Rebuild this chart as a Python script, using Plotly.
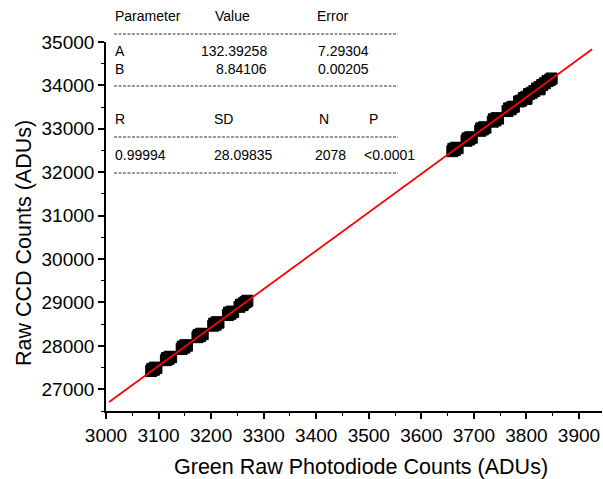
import plotly.graph_objects as go

# Photodiode vs CCD measurements (ADUs)
pd_counts = [
    3086, 3088, 3091, 3093, 3096,
    3114, 3116, 3119, 3121, 3124,
    3144, 3146, 3149, 3151, 3154,
    3174, 3176, 3179, 3181, 3184,
    3204, 3206, 3209, 3211, 3214,
    3232, 3234, 3237, 3239, 3242,
    3254, 3257, 3260, 3263, 3266, 3269,
    3659, 3661, 3664, 3666, 3669,
    3686, 3688, 3691, 3693, 3696,
    3712, 3714, 3717, 3719, 3722,
    3736, 3738, 3741, 3743, 3746,
    3764, 3767, 3770, 3773, 3776,
    3786, 3790, 3795, 3800, 3805, 3810, 3815, 3820, 3825, 3830, 3835, 3840, 3845, 3848,
    3800, 3825,
]
ccd_counts = [
    27420, 27470, 27450, 27500, 27490,
    27670, 27720, 27700, 27750, 27740,
    27930, 27985, 27960, 28015, 28005,
    28200, 28250, 28225, 28280, 28270,
    28465, 28515, 28490, 28545, 28535,
    28710, 28765, 28740, 28790, 28780,
    28900, 28950, 28940, 28990, 29010, 29040,
    32485, 32540, 32515, 32565, 32555,
    32725, 32780, 32755, 32805, 32795,
    32955, 33010, 32985, 33035, 33025,
    33165, 33220, 33195, 33245, 33235,
    33410, 33470, 33450, 33500, 33510,
    33630, 33650, 33710, 33740, 33800, 33830, 33870, 33930, 33960, 34010, 34050, 34100, 34130, 34160,
    33690, 33910,
]

# Linear fit results
fit_A = 132.39258
fit_A_err = 7.29304
fit_B = 8.84106
fit_B_err = 0.00205
fit_R = 0.99994
fit_SD = 28.09835
fit_N = 2078
fit_P = "<0.0001"
fit_x = [3006, 3925]
fit_y = [fit_A + fit_B * v for v in fit_x]

x_ticks = list(range(3000, 4000, 100))
y_ticks = list(range(27000, 36000, 1000))

FONT = "Liberation Sans, Arial, sans-serif"
W, H = 603, 479
L, R, T, B = 106, 1, 42, 68
PW, PH = W - L - R, H - T - B


def px(x):
    return (x - L) / PW


def py(y):
    return (H - B - y) / PH


fig = go.Figure()
fig.add_trace(go.Scatter(
    x=pd_counts, y=ccd_counts, mode="markers",
    marker=dict(symbol="square", size=11, color="black",
                line=dict(color="black", width=1)),
    showlegend=False,
))
fig.add_trace(go.Scatter(
    x=fit_x, y=fit_y, mode="lines",
    line=dict(color="#ff0000", width=1.8),
    showlegend=False,
))

axis_common = dict(
    showline=True, linecolor="black", linewidth=1.6,
    showgrid=False, zeroline=False,
    ticks="outside", ticklen=6, tickwidth=1.6, tickcolor="black",
    tickformat="d",
    tickfont=dict(family=FONT, size=19, color="black"),
)
fig.update_xaxes(
    range=[3000, 3000 + PW / (473 / 900)], tickvals=x_ticks,
    minor=dict(dtick=50, ticks="outside", ticklen=3.5, tickwidth=1.4, tickcolor="black"),
    **axis_common,
)
fig.update_yaxes(
    range=[26500, 35000], tickvals=y_ticks,
    minor=dict(dtick=500, ticks="outside", ticklen=3.5, tickwidth=1.4, tickcolor="black"),
    **axis_common,
)

ann = []


def text(s, x, y, anchor="left", size=14):
    ann.append(dict(text=s, x=px(x), y=py(y), xref="paper", yref="paper",
                    xanchor=anchor, yanchor="middle", showarrow=False,
                    font=dict(family=FONT, size=size, color="black")))


# Axis titles
text("Green Raw Photodiode Counts (ADUs)", 361, 467, anchor="center", size=21.5)
ann.append(dict(text="Raw CCD Counts (ADUs)", x=px(24), y=py(243), xref="paper", yref="paper",
                xanchor="center", yanchor="middle", showarrow=False, textangle=-90,
                font=dict(family=FONT, size=21.5, color="black")))

# Fit parameter table
text("Parameter", 113, 16)
text("Value", 213, 16)
text("Error", 315, 16)
text("A", 113, 51)
text(f"{fit_A:.5f}", 269, 51, anchor="right")
text(f"{fit_A_err:.5f}", 316, 51)
text("B", 113, 69)
text(f"{fit_B:.5f}", 269, 69, anchor="right")
text(f"{fit_B_err:.5f}", 316, 69)
text("R", 113, 119)
text("SD", 212, 119)
text("N", 317, 119)
text("P", 367, 119)
text(f"{fit_R:.5f}", 113, 155)
text(f"{fit_SD:.5f}", 212, 155)
text(str(fit_N), 313, 155)
text(fit_P, 362, 155)

shapes = []
for yy in (34, 86, 137, 173):
    shapes.append(dict(type="line", xref="paper", yref="paper",
                       x0=px(114), x1=px(398), y0=py(yy), y1=py(yy),
                       line=dict(color="#333333", width=1, dash="3px,1.5px")))

fig.update_layout(
    width=W, height=H,
    margin=dict(l=L, r=R, t=T, b=B),
    paper_bgcolor="white", plot_bgcolor="white",
    annotations=ann, shapes=shapes,
    font=dict(family=FONT, color="black"),
)

fig.write_html("out.html")
